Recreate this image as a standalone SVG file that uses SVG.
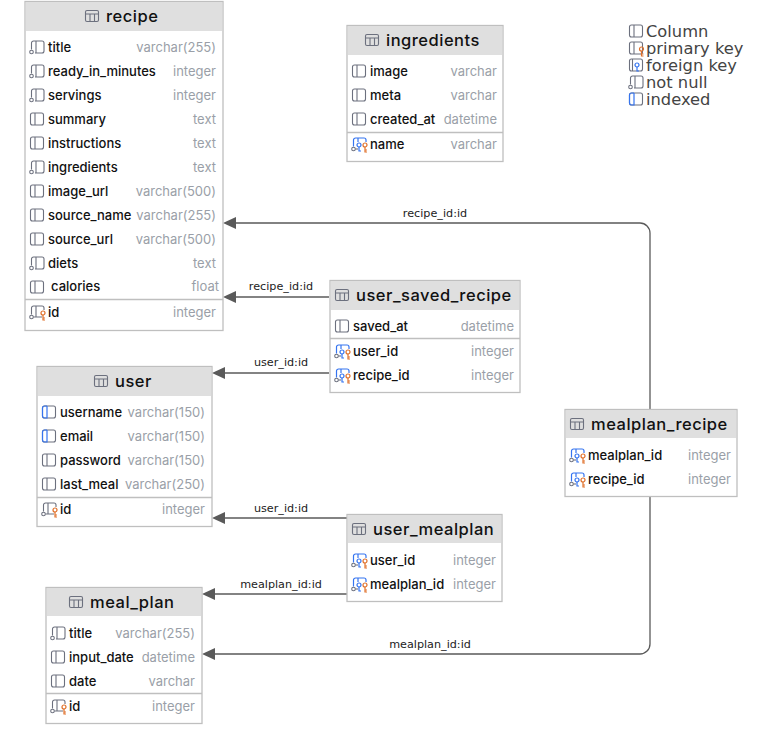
<svg xmlns="http://www.w3.org/2000/svg" xmlns:xlink="http://www.w3.org/1999/xlink" width="763" height="749" viewBox="0 0 763 749">
<style>
.box{fill:#fff;stroke:#bfbfbf;stroke-width:1.3}
.hd{fill:#dfdfdf}
.sep{stroke:#bfbfbf;stroke-width:1.3}
.title{font:500 16.5px Inter,"Liberation Sans",sans-serif;fill:#111;letter-spacing:.5px}
.n{font:500 13px Inter,"Liberation Sans",sans-serif;fill:#111}
.t{font:400 13px Inter,"Liberation Sans",sans-serif;fill:#9a9fa8;text-anchor:end}
.e{font:400 11.2px "DejaVu Sans",sans-serif;fill:#222;text-anchor:middle}
.lg{font:400 16.3px "DejaVu Sans",sans-serif;fill:#444}
.c{fill:none;stroke:#5a5a5a;stroke-width:1.3}
.i{fill:none;stroke:#6c707e;stroke-width:1.1}
.o{fill:none;stroke:#e0702a;stroke-width:1.2}
.b{fill:none;stroke:#3574f0;stroke-width:1.2}
</style>
<defs>
<marker id="a" markerWidth="14" markerHeight="12" refX="0" refY="6" orient="auto" markerUnits="userSpaceOnUse"><path d="M13 6L0 0V12Z" fill="#5a5a5a"/></marker>
<g id="tb"><rect class="i" x="0.500" y="-5.500" width="13" height="11" rx="1.500"/><path class="i" d="M0.500-2H13.500M5 -2V5.500M9.500-2V5.500"/></g>
<g id="col"><rect class="i" x="0.500" y="-6" width="13" height="12" rx="2"/><path class="i" d="M5-6V6"/></g>
<g id="idx"><rect class="i" x="0.500" y="-6" width="13" height="12" rx="2"/><path class="b" d="M5-6H2.500a2 2 0 0 0-2 2V4a2 2 0 0 0 2 2H5V-6"/></g>
<g id="nn"><path class="i" d="M1.500 2.500V-4a2 2 0 0 1 2-2H12a2 2 0 0 1 2 2V4a2 2 0 0 1-2 2H5M6-6V6"/><circle class="i" cx="1.500" cy="5" r="1.800"/></g>
<g id="pk"><path class="i" d="M1.500 2.500V-4a2 2 0 0 1 2-2H12a2 2 0 0 1 2 2V-2M6-6V5M3.500 5H12"/><circle class="i" cx="1.500" cy="5" r="1.800"/><circle class="o" cx="13" cy="1" r="2"/><path class="o" d="M13 3V8H15M13 6H15"/></g>
<g id="fk"><path class="b" d="M1.500 2.500V-4a2 2 0 0 1 2-2H12a2 2 0 0 1 2 2V-2M6-6V-2"/><circle class="i" cx="1.500" cy="5" r="1.800"/><path class="i" d="M3.500 5H6"/><circle class="b" cx="7" cy="1" r="2"/><path class="b" d="M7 3V7H9"/><circle class="o" cx="13" cy="1" r="2"/><path class="o" d="M13 3V8H15M13 6H15"/></g>
<g id="lpk"><rect class="i" x="0.500" y="-6" width="13" height="12" rx="2"/><path class="i" d="M5-6V6"/><circle class="o" cx="12.500" cy="1" r="2"/><path class="o" d="M12.500 3V8H14.500M12.500 6H14.500"/></g>
<g id="lfk"><rect class="i" x="0.500" y="-6" width="13" height="12" rx="2"/><path class="i" d="M3.500-6V6"/><circle class="b" cx="8" cy="0" r="2"/><path class="b" d="M8 2V6H10"/></g>
</defs>

<g id="connectors">
<path class="c" d="M650 409V233a10 10 0 0 0-10-10H236" marker-end="url(#a)"/>
<path class="c" d="M650 497V644a10 10 0 0 1-10 10H215" marker-end="url(#a)"/>
<path class="c" d="M329 297H236" marker-end="url(#a)"/>
<path class="c" d="M329 373H225" marker-end="url(#a)"/>
<path class="c" d="M347 518H225" marker-end="url(#a)"/>
<path class="c" d="M347 594H215" marker-end="url(#a)"/>
<text class="e" x="435" y="216.500">recipe_id:id</text>
<text class="e" x="281" y="289.500">recipe_id:id</text>
<text class="e" x="281" y="366">user_id:id</text>
<text class="e" x="281" y="512">user_id:id</text>
<text class="e" x="281" y="588">mealplan_id:id</text>
<text class="e" x="430" y="648">mealplan_id:id</text>
</g>

<g id="recipe">
<rect class="box" x="25" y="1.500" width="198" height="329"/>
<rect class="hd" x="26" y="2" width="196" height="29"/>
<use href="#tb" x="85" y="16"/>
<text class="title" x="106" y="22">recipe</text>
<use href="#nn" x="30" y="47"/><text class="n" x="48" y="51.500">title</text><text class="t" x="216" y="52">varchar(255)</text>
<use href="#nn" x="30" y="71"/><text class="n" x="48" y="75.500">ready_in_minutes</text><text class="t" x="216" y="76">integer</text>
<use href="#nn" x="30" y="95"/><text class="n" x="48" y="99.500">servings</text><text class="t" x="216" y="100">integer</text>
<use href="#col" x="30" y="119"/><text class="n" x="48" y="123.500">summary</text><text class="t" x="216" y="124">text</text>
<use href="#col" x="30" y="143"/><text class="n" x="48" y="147.500">instructions</text><text class="t" x="216" y="148">text</text>
<use href="#nn" x="30" y="167"/><text class="n" x="48" y="171.500">ingredients</text><text class="t" x="216" y="172">text</text>
<use href="#col" x="30" y="191"/><text class="n" x="48" y="195.500">image_url</text><text class="t" x="216" y="196">varchar(500)</text>
<use href="#col" x="30" y="215"/><text class="n" x="48" y="219.500">source_name</text><text class="t" x="216" y="220">varchar(255)</text>
<use href="#col" x="30" y="239"/><text class="n" x="48" y="243.500">source_url</text><text class="t" x="216" y="244">varchar(500)</text>
<use href="#nn" x="30" y="263"/><text class="n" x="48" y="267.500">diets</text><text class="t" x="216" y="268">text</text>
<use href="#col" x="30" y="287"/><text class="n" x="51" y="291">calories</text><text class="t" x="219" y="291">float</text>
<path class="sep" d="M25 299.500H223"/>
<use href="#pk" x="30" y="312"/><text class="n" x="48" y="317">id</text><text class="t" x="216" y="317">integer</text>
</g>

<g id="ingredients">
<rect class="box" x="347" y="25.500" width="156" height="136"/>
<rect class="hd" x="348" y="26" width="154" height="29"/>
<use href="#tb" x="365" y="40"/>
<text class="title" x="386" y="46">ingredients</text>
<use href="#col" x="352" y="71"/><text class="n" x="370" y="75.500">image</text><text class="t" x="497" y="76">varchar</text>
<use href="#col" x="352" y="95"/><text class="n" x="370" y="99.500">meta</text><text class="t" x="497" y="100">varchar</text>
<use href="#col" x="352" y="119"/><text class="n" x="370" y="123.500">created_at</text><text class="t" x="497" y="124">datetime</text>
<path class="sep" d="M347 132.500H503"/>
<use href="#fk" x="352" y="144"/><text class="n" x="370" y="149">name</text><text class="t" x="497" y="149">varchar</text>
</g>

<g id="user_saved_recipe">
<rect class="box" x="330" y="280.500" width="190" height="112"/>
<rect class="hd" x="331" y="281" width="188" height="29"/>
<use href="#tb" x="335" y="295"/>
<text class="title" x="356" y="301">user_saved_recipe</text>
<use href="#col" x="335" y="326"/><text class="n" x="353" y="330.500">saved_at</text><text class="t" x="514" y="331">datetime</text>
<path class="sep" d="M330 338.500H520"/>
<use href="#fk" x="335" y="351"/><text class="n" x="353" y="356">user_id</text><text class="t" x="514" y="356">integer</text>
<use href="#fk" x="335" y="375"/><text class="n" x="353" y="380">recipe_id</text><text class="t" x="514" y="380">integer</text>
</g>

<g id="user">
<rect class="box" x="37" y="366.500" width="175" height="160"/>
<rect class="hd" x="38" y="367" width="173" height="29"/>
<use href="#tb" x="94" y="381"/>
<text class="title" x="115" y="387">user</text>
<use href="#idx" x="42" y="412"/><text class="n" x="60" y="416.500">username</text><text class="t" x="205" y="417">varchar(150)</text>
<use href="#idx" x="42" y="436"/><text class="n" x="60" y="440.500">email</text><text class="t" x="205" y="441">varchar(150)</text>
<use href="#col" x="42" y="460"/><text class="n" x="60" y="464.500">password</text><text class="t" x="205" y="465">varchar(150)</text>
<use href="#col" x="42" y="484"/><text class="n" x="60" y="488.500">last_meal</text><text class="t" x="205" y="489">varchar(250)</text>
<path class="sep" d="M37 497.500H212"/>
<use href="#pk" x="42" y="509"/><text class="n" x="60" y="514">id</text><text class="t" x="205" y="514">integer</text>
</g>

<g id="mealplan_recipe">
<rect class="box" x="565" y="409.500" width="172" height="87"/>
<rect class="hd" x="566" y="410" width="170" height="28"/>
<use href="#tb" x="570" y="424"/>
<text class="title" x="591" y="430">mealplan_recipe</text>
<use href="#fk" x="570" y="455"/><text class="n" x="588" y="460">mealplan_id</text><text class="t" x="731" y="460">integer</text>
<use href="#fk" x="570" y="479"/><text class="n" x="588" y="484">recipe_id</text><text class="t" x="731" y="484">integer</text>
</g>

<g id="user_mealplan">
<rect class="box" x="347" y="514.500" width="155" height="87"/>
<rect class="hd" x="348" y="515" width="153" height="28"/>
<use href="#tb" x="352" y="529"/>
<text class="title" x="373" y="535">user_mealplan</text>
<use href="#fk" x="352" y="560"/><text class="n" x="370" y="565">user_id</text><text class="t" x="496" y="565">integer</text>
<use href="#fk" x="352" y="584"/><text class="n" x="370" y="589">mealplan_id</text><text class="t" x="496" y="589">integer</text>
</g>

<g id="meal_plan">
<rect class="box" x="46" y="587.500" width="156" height="136"/>
<rect class="hd" x="47" y="588" width="154" height="28"/>
<use href="#tb" x="69" y="602"/>
<text class="title" x="90" y="608">meal_plan</text>
<use href="#nn" x="51" y="633"/><text class="n" x="69" y="637.500">title</text><text class="t" x="195" y="638">varchar(255)</text>
<use href="#col" x="51" y="657"/><text class="n" x="69" y="661.500">input_date</text><text class="t" x="195" y="662">datetime</text>
<use href="#col" x="51" y="681"/><text class="n" x="69" y="685.500">date</text><text class="t" x="195" y="686">varchar</text>
<path class="sep" d="M46 693.500H202"/>
<use href="#pk" x="51" y="706"/><text class="n" x="69" y="711">id</text><text class="t" x="195" y="711">integer</text>
</g>

<g id="legend">
<use href="#col" x="629" y="31"/><text class="lg" x="646" y="36.500">Column</text>
<use href="#lpk" x="629" y="48"/><text class="lg" x="646" y="53.500">primary key</text>
<use href="#lfk" x="629" y="65"/><text class="lg" x="646" y="70.500">foreign key</text>
<use href="#nn" x="629" y="82"/><text class="lg" x="646" y="87.500">not null</text>
<use href="#idx" x="629" y="99"/><text class="lg" x="646" y="104.500">indexed</text>
</g>
</svg>
